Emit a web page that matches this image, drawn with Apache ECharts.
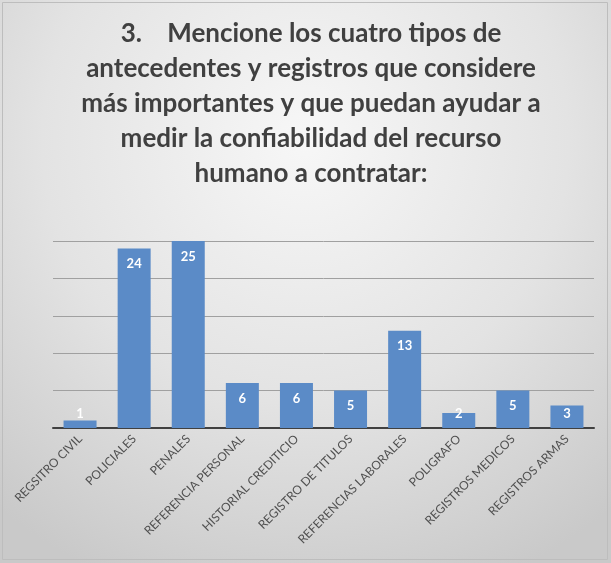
<!DOCTYPE html>
<html>
<head>
<meta charset="utf-8">
<script src="https://cdn.jsdelivr.net/npm/echarts@6/dist/echarts.min.js"></script>
<style>
  html, body { margin: 0; padding: 0; background: #ffffff; }
  #chart { width: 611px; height: 563px; }
</style>
</head>
<body>
<div id="chart"></div>
<script>
// Survey question 3: records considered most useful to assess candidate reliability
const titleLines = [
  '3.    Mencione los cuatro tipos de',
  'antecedentes y registros que considere',
  'más importantes y que puedan ayudar a',
  'medir la confiabilidad del recurso',
  'humano a contratar:'
];
const categories = [
  'REGSITRO CIVIL', 'POLICIALES', 'PENALES', 'REFERENCIA PERSONAL',
  'HISTORIAL CREDITICIO', 'REGISTRO DE TITULOS', 'REFERENCIAS LABORALES',
  'POLIGRAFO', 'REGISTROS MEDICOS', 'REGISTROS ARMAS'
];
const responses = [1, 24, 25, 6, 6, 5, 13, 2, 5, 3];

const FONT = 'Lato, "Open Sans", sans-serif';

// Short bars get their value label held just above the axis
const barData = responses.map(v => v < 4
  ? { value: v, label: { position: 'insideBottom', distance: 8 } }
  : v);

const chart = echarts.init(document.getElementById('chart'), null, { renderer: 'canvas' });
chart.setOption({
  backgroundColor: {
    type: 'radial', x: 0.5, y: 0.25, r: 0.85,
    colorStops: [
      { offset: 0, color: '#f7f7f7' },
      { offset: 0.55, color: '#e3e3e3' },
      { offset: 1, color: '#c9c9c9' }
    ]
  },
  animation: false,
  title: {
    text: titleLines.join('\n'),
    left: 306, top: 11, textAlign: 'center',
    textStyle: {
      fontFamily: FONT, fontWeight: 'bold', fontSize: 26,
      lineHeight: 35, color: '#404040'
    }
  },
  graphic: [{
    type: 'rect', silent: true,
    shape: { x: 2.5, y: 2.5, width: 605, height: 557 },
    style: { fill: null, stroke: '#bdbdbd', lineWidth: 1 }
  }],
  grid: { left: 53, right: 17, top: 241, bottom: 135, containLabel: false },
  xAxis: {
    type: 'category',
    data: categories,
    axisTick: { show: false },
    axisLine: { lineStyle: { color: '#404040', width: 2 } },
    axisLabel: {
      rotate: 45, margin: 9, interval: 0,
      fontFamily: FONT, fontSize: 12, color: '#505050'
    }
  },
  yAxis: {
    type: 'value', min: 0, max: 25, interval: 5,
    axisLabel: { show: false },
    axisLine: { show: false },
    axisTick: { show: false },
    splitLine: { lineStyle: { color: '#a0a0a0', width: 1 } }
  },
  series: [{
    type: 'bar',
    data: barData,
    barWidth: '61%',
    itemStyle: { color: '#5b8bc7' },
    label: {
      show: true, position: 'insideTop', distance: 9,
      color: '#ffffff', fontFamily: FONT, fontWeight: 'bold', fontSize: 13
    }
  }]
});
</script>
</body>
</html>
